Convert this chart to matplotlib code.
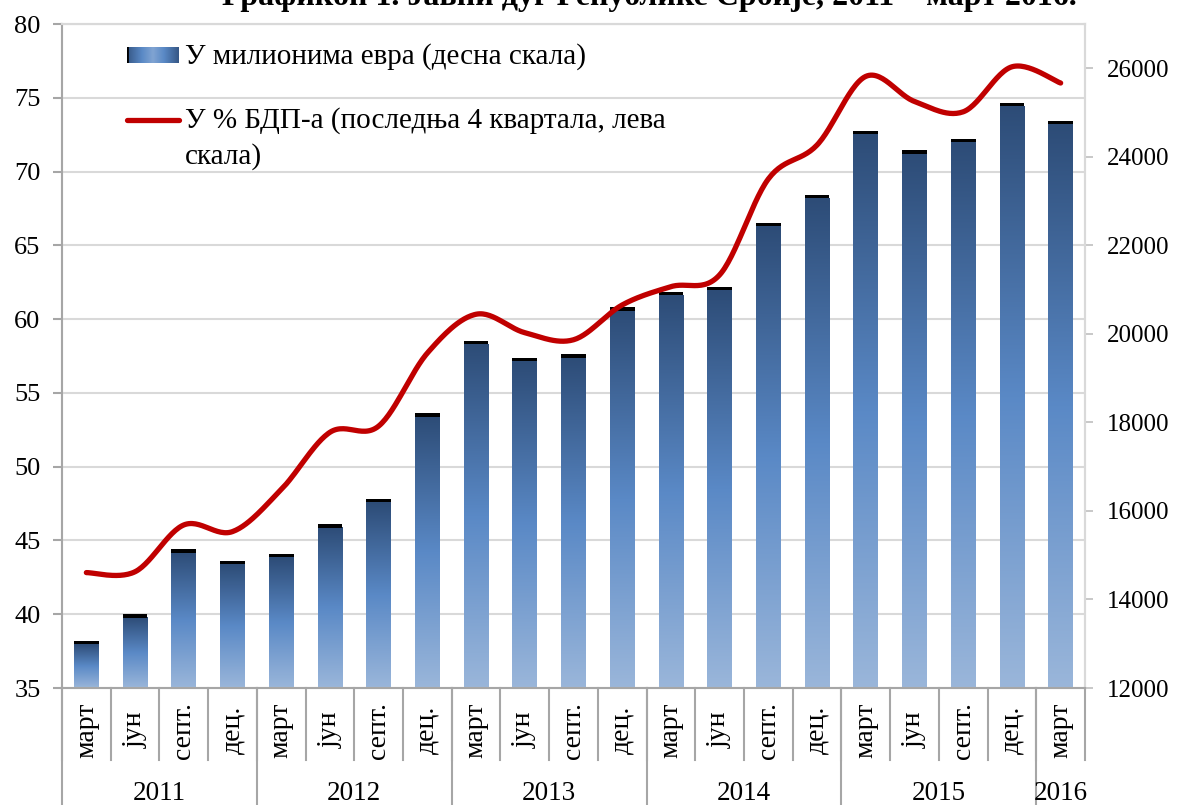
import numpy as np
import matplotlib
matplotlib.use("Agg")
import matplotlib.pyplot as plt
from matplotlib.colors import LinearSegmentedColormap
from matplotlib.transforms import blended_transform_factory

plt.rcParams['font.family'] = ['Liberation Serif', 'DejaVu Serif']

# ---------------- data ----------------
months = ['март', 'јун', 'септ.', 'дец.'] * 5 + ['март']
years = ['2011', '2012', '2013', '2014', '2015', '2016']
year_counts = [4, 4, 4, 4, 4, 1]
debt_mn_eur = [13070, 13670, 15140, 14870, 15030, 15700, 16270, 18210,
               19850, 19460, 19540, 20600, 20950, 21060, 22510, 23140,
               24590, 24150, 24410, 25220, 24810]
debt_pct_gdp = [42.82, 42.88, 46.05, 45.6, 48.45, 52.33, 52.75, 57.7,
                60.33, 59.08, 58.6, 60.96, 62.2, 63.0, 69.5, 71.8,
                76.45, 74.75, 74.05, 77.1, 76.0]
left_ticks = [35, 40, 45, 50, 55, 60, 65, 70, 75, 80]
right_ticks = [12000, 14000, 16000, 18000, 20000, 22000, 24000, 26000]
title = 'Графикон 1. Јавни дуг Републике Србије, 2011 – март 2016.'
legend_bar = 'У милионима евра (десна скала)'
legend_line_1 = 'У % БДП-а (последња 4 квартала, лева'
legend_line_2 = 'скала)'

L0, L1 = 35, 80
R0, R1 = 12000, 27000

W, H = 1178, 805
fig = plt.figure(figsize=(W / 100, H / 100), dpi=100)
ax_l, ax_r, ax_t, ax_b = 62, 1085, 24, 688
ax = fig.add_axes([ax_l / W, 1 - ax_b / H, (ax_r - ax_l) / W, (ax_b - ax_t) / H])
axl = ax.twinx()

n = len(debt_mn_eur)
x = np.arange(n)
w = 0.51

cmap = LinearSegmentedColormap.from_list(
    'bar', [(0.0, '#9AB6DA'), (0.5, '#5A89C6'), (1.0, '#2D4C77')])
grad = np.linspace(0, 1, 256).reshape(-1, 1)

# gridlines (at left-scale ticks) on bar axes
for t in left_ticks[1:]:
    yv = R0 + (t - L0) / (L1 - L0) * (R1 - R0)
    ax.axhline(yv, color='#D9D9D9', lw=1.5, zorder=0)

cap = 3.5 * (R1 - R0) / (ax_b - ax_t)   # ~3.5 px black cap
for xi, v in zip(x, debt_mn_eur):
    ax.imshow(grad, cmap=cmap, origin='lower', aspect='auto',
              extent=(xi - w / 2, xi + w / 2, R0, v - cap), zorder=2,
              interpolation='bilinear')
    ax.bar(xi, cap, width=w, bottom=v - cap, color='black', lw=0, zorder=3)

ax.set_xlim(-0.5, n - 0.5)
ax.set_ylim(R0, R1)
ax.yaxis.tick_right()
ax.set_yticks(right_ticks)
ax.set_yticklabels([str(t) for t in right_ticks])
ax.tick_params(axis='y', direction='out', length=5.5, width=1.2,
               color='#BFBFBF', labelsize=18, pad=10)
ax.set_xticks([])

# smooth line (Excel-style Bezier smoothing)
def smooth(xs, ys, steps=30):
    P = np.column_stack([xs, ys]).astype(float)
    m = len(P)
    out = []
    for i in range(m - 1):
        p0 = P[i - 1] if i > 0 else P[i]
        p1 = P[i]
        p2 = P[i + 1]
        p3 = P[i + 2] if i + 2 < m else P[i + 1]
        c1 = p1 + (p2 - p0) / 6.0
        c2 = p2 - (p3 - p1) / 6.0
        t = np.linspace(0, 1, steps)[:, None]
        seg = ((1 - t) ** 3) * p1 + 3 * ((1 - t) ** 2) * t * c1 + \
              3 * (1 - t) * t ** 2 * c2 + t ** 3 * p2
        out.append(seg if i == 0 else seg[1:])
    out = np.vstack(out)
    return out[:, 0], out[:, 1]

sx, sy = smooth(x, debt_pct_gdp)
axl.plot(sx, sy, color='#C00000', lw=3.8, solid_capstyle='round', zorder=5)
axl.set_ylim(L0, L1)
axl.yaxis.tick_left()
axl.set_yticks(left_ticks)
axl.tick_params(axis='y', direction='out', length=6.5, width=1.5,
                color='#A6A6A6', labelsize=19, pad=9)
axl.set_xlim(-0.5, n - 0.5)

for a in (ax, axl):
    for s in a.spines.values():
        s.set_color('#D9D9D9')
        s.set_linewidth(1.5)
axl.spines['left'].set_color('#A6A6A6')
axl.spines['bottom'].set_color('#A6A6A6')

# category axis (two-level)
tr = blended_transform_factory(axl.transData, axl.transAxes)
hpx = ax_b - ax_t
for b in np.arange(-0.5, n, 1.0):
    axl.plot([b, b], [0, -(760 - ax_b) / hpx], transform=tr,
             color='#A6A6A6', lw=1.5, clip_on=False)
for xi, mlab in zip(x, months):
    axl.text(xi, -(730 - ax_b) / hpx, mlab, transform=tr, rotation=90,
             ha='center', va='center', fontsize=20, clip_on=False)
start = 0
for ylab, cnt in zip(years, year_counts):
    b0 = start - 0.5
    axl.plot([b0, b0], [0, -(H + 5 - ax_b) / hpx], transform=tr,
             color='#A6A6A6', lw=1.5, clip_on=False)
    axl.text(start + (cnt - 1) / 2, -(793 - ax_b) / hpx, ylab, transform=tr,
             ha='center', va='center', fontsize=19.5, clip_on=False)
    start += cnt

# legend (manual)
lax = fig.add_axes([127 / W, 1 - 63 / H, 52 / W, 16 / H])
patch_vals = 0.2 + 0.7 * np.abs(np.linspace(-1, 1, 64))[None, :].repeat(8, 0)
lax.imshow(patch_vals, cmap=cmap, aspect='auto', vmin=0, vmax=1)
lax.axvline(0, color='black', lw=2.0)
lax.axis('off')

def ay(py):
    return 1 - (py - ax_t) / hpx

def axx(px):
    return (px - ax_l) / (ax_r - ax_l)

axl.text(axx(185), ay(57), legend_bar, transform=axl.transAxes, ha='left',
         va='center', fontsize=21)
axl.plot([axx(127), axx(179)], [ay(120), ay(120)], transform=axl.transAxes,
         color='#C00000', lw=3.8, solid_capstyle='round', clip_on=False)
axl.text(axx(185), ay(121), legend_line_1, transform=axl.transAxes,
         ha='left', va='center', fontsize=21)
axl.text(axx(185), ay(157), legend_line_2, transform=axl.transAxes,
         ha='left', va='center', fontsize=21)

fig.text(649 / W, 1 - 5 / H, title, ha='center', va='baseline', fontsize=23,
         fontweight='bold')

fig.savefig('out.png', dpi=100)
